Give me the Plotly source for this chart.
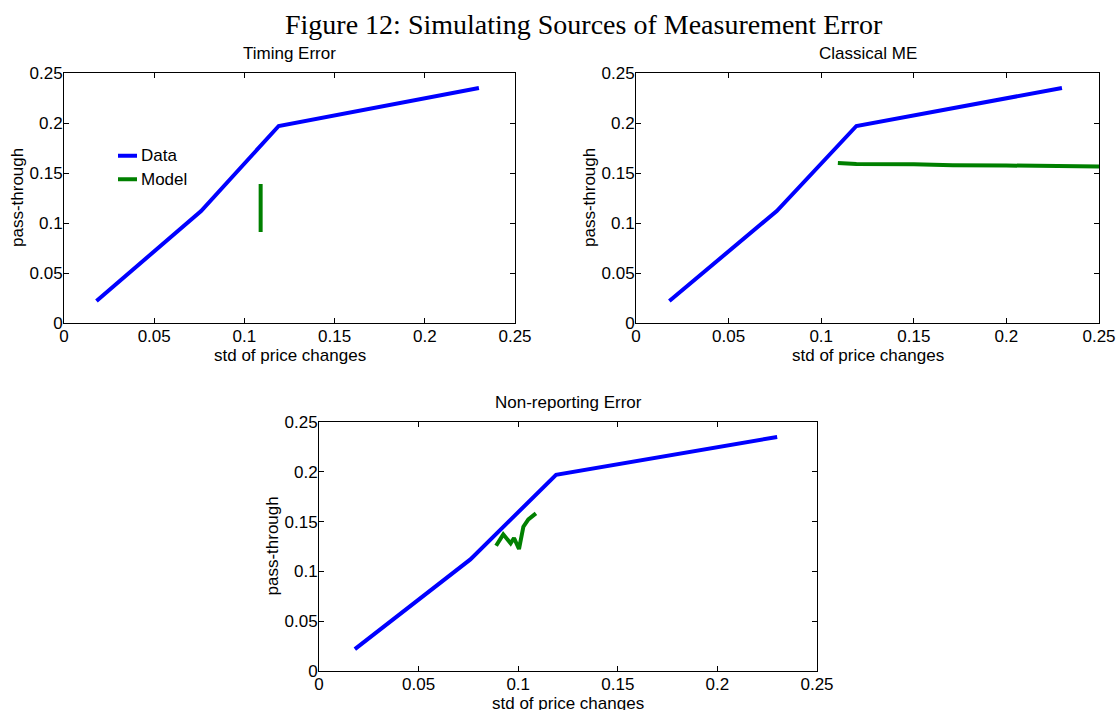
import plotly.graph_objects as go

# Observed pass-through by std of price changes (same in every panel)
std_data = [0.018, 0.076, 0.119, 0.230]
pt_data = [0.022, 0.112, 0.197, 0.235]

# Model: timing error
timing_std = [0.109, 0.109]
timing_pt = [0.091, 0.139]

# Model: classical measurement error
classical_std = [0.109, 0.119, 0.150, 0.171, 0.200, 0.225, 0.250]
classical_pt = [0.160, 0.159, 0.1588, 0.1578, 0.1575, 0.1568, 0.1565]

# Model: non-reporting error
nonrep_std = [0.0889, 0.0925, 0.0962, 0.0979, 0.1004, 0.1026, 0.1051, 0.1089]
nonrep_pt = [0.1258, 0.1372, 0.1282, 0.1335, 0.1225, 0.1449, 0.1523, 0.1583]

tick_vals = [0, 0.05, 0.1, 0.15, 0.2, 0.25]
tick_text = ["0", "0.05", "0.1", "0.15", "0.2", "0.25"]

panel_titles = ["Timing Error", "Classical ME", "Non-reporting Error"]
fig_title = "Figure 12: Simulating Sources of Measurement Error"
x_title = "std of price changes"
y_title = "pass-through"
legend_names = ["Data", "Model"]

BLUE = "#0000ff"
GREEN = "#008000"
W, H = 1119, 710
SANS = "Liberation Sans, Arial, sans-serif"

# panel boxes in pixels: (left, right, top, bottom)
boxes = [(64, 515, 73, 323), (636, 1099, 73, 323), (319, 817, 422, 671)]
models = [(timing_std, timing_pt), (classical_std, classical_pt), (nonrep_std, nonrep_pt)]

fig = go.Figure()
layout = dict(
    width=W, height=H,
    margin=dict(l=0, r=0, t=0, b=0),
    paper_bgcolor="white", plot_bgcolor="white",
    showlegend=False,
    font=dict(family=SANS, size=16, color="black"),
)
annotations = []
shapes = []

for i, ((l, r, t, b), (mx, my), title) in enumerate(zip(boxes, models, panel_titles)):
    n = "" if i == 0 else str(i + 1)
    xa, ya = "x" + n, "y" + n
    fig.add_trace(go.Scatter(x=std_data, y=pt_data, mode="lines", xaxis=xa, yaxis=ya,
                             line=dict(color=BLUE, width=4), name=legend_names[0]))
    fig.add_trace(go.Scatter(x=mx, y=my, mode="lines", xaxis=xa, yaxis=ya,
                             line=dict(color=GREEN, width=4), name=legend_names[1]))
    common = dict(
        range=[0, 0.25], showline=True, linecolor="black", linewidth=1,
        mirror="ticks", ticks="inside", ticklen=5, tickcolor="black", tickwidth=1,
        showgrid=False, zeroline=False, tickvals=tick_vals, ticktext=tick_text,
        tickfont=dict(family=SANS, size=17, color="black"), automargin=False,
    )
    layout["xaxis" + n] = dict(common, domain=[l / W, r / W], anchor=ya,
                               ticklabelstandoff=-2)
    layout["yaxis" + n] = dict(common, domain=[1 - b / H, 1 - t / H], anchor=xa,
                               ticklabelstandoff=-3)

    annotations.append(dict(text=title, xref=xa + " domain", yref=ya + " domain",
                            x=0.5, y=1, yanchor="bottom", yshift=8, showarrow=False,
                            font=dict(family=SANS, size=17)))
    annotations.append(dict(text=x_title, xref=xa + " domain", yref=ya + " domain",
                            x=0.5, y=0, yanchor="middle", yshift=-32, showarrow=False,
                            font=dict(family=SANS, size=17)))
    annotations.append(dict(text=y_title, xref=xa + " domain", yref=ya + " domain",
                            x=0, y=0.5, xanchor="center", xshift=-47, textangle=-90,
                            showarrow=False, font=dict(family=SANS, size=17)))

# legend inside the first panel
for name, color, yy in zip(legend_names, [BLUE, GREEN], [0.669, 0.575]):
    shapes.append(dict(type="line", xref="x domain", yref="y domain",
                       x0=0.1197, x1=0.1619, y0=yy, y1=yy,
                       line=dict(color=color, width=4)))
    annotations.append(dict(text=name, xref="x domain", yref="y domain",
                            x=0.1663, y=yy, xanchor="left", yanchor="middle",
                            showarrow=False, font=dict(family=SANS, size=17)))

annotations.append(dict(text=fig_title, xref="paper", yref="paper",
                        x=584 / W, y=1 - 25 / H, xanchor="center", yanchor="middle",
                        showarrow=False,
                        font=dict(family="Liberation Serif, Times New Roman, serif", size=28)))

layout["annotations"] = annotations
layout["shapes"] = shapes
fig.update_layout(**layout)
fig.write_html("out.html")
